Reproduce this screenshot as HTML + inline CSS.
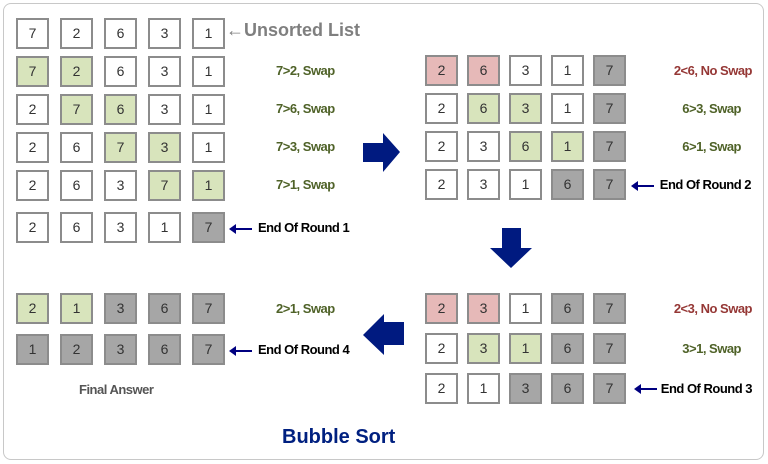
<!DOCTYPE html>
<html><head><meta charset="utf-8"><style>
body{margin:0;width:768px;height:464px;background:#fff;position:relative;overflow:hidden;font-family:"Liberation Sans",Calibri,sans-serif}
.frame{position:absolute;left:3px;top:3px;width:759px;height:455px;border:1.5px solid #c8c8c8;border-radius:8px}
.b{position:absolute;width:29px;height:27px;border:2px solid #8c8c8c;box-sizing:content-box;text-align:center;line-height:27px;font-size:14px;color:#333}
.w{background:#fff}.g{background:#d8e4bc}.r{background:#e6b9b8}.d{background:#a6a6a6}
.t{position:absolute;font-weight:bold;font-size:13px;letter-spacing:-0.5px;white-space:nowrap}
.gr{color:#4f6228}.rd{color:#953735}.bk{color:#000}
.arr{position:absolute;height:2px;background:#000080;width:18px}
.arr:before{content:"";position:absolute;left:-5px;top:-4px;border-right:7px solid #000080;border-top:5px solid transparent;border-bottom:5px solid transparent}
</style></head><body>
<div class="frame"></div>
<div id="c"></div>
<div class="t" style="left:226px;top:20px;font-size:18px;letter-spacing:0;color:#7f7f7f">←Unsorted List</div>
<div class="t" style="left:282px;top:426px;font-size:20px;letter-spacing:0;color:#002080">Bubble Sort</div>
<div class="t" style="left:79px;top:382px;color:#555">Final Answer</div>
<svg style="position:absolute;left:0;top:0" width="768" height="464">
<polygon points="363,143 383,143 383,133 400,152 383,172 383,162 363,162" fill="#001a80"/>
<polygon points="502,228 521,228 521,248 532,248 511,268 490,248 502,248" fill="#001a80"/>
<polygon points="404,322 384,322 384,314 363,335 384,355 384,345 404,345" fill="#001a80"/>
</svg>
<script>
const rowsL=[["7w","2w","6w","3w","1w"],["7g","2g","6w","3w","1w"],["2w","7g","6g","3w","1w"],["2w","6w","7g","3g","1w"],["2w","6w","3w","7g","1g"],["2w","6w","3w","1w","7d"]];
const rowsR=[["2r","6r","3w","1w","7d"],["2w","6g","3g","1w","7d"],["2w","3w","6g","1g","7d"],["2w","3w","1w","6d","7d"]];
const rowsR3=[["2r","3r","1w","6d","7d"],["2w","3g","1g","6d","7d"],["2w","1w","3d","6d","7d"]];
const rowsL4=[["2g","1g","3d","6d","7d"],["1d","2d","3d","6d","7d"]];
const c=document.getElementById('c');
function grid(rows,x0,dx,ys,name){rows.forEach((r,i)=>r.forEach((v,j)=>{const d=document.createElement('div');d.className='b '+v[1];d.style.left=(x0+j*dx)+'px';d.style.top=ys[i]+'px';d.textContent=v[0];


c.appendChild(d);}));}
grid(rowsL,16,44,[18,56,94,132,170,212],'round1');
grid(rowsR,425,42,[55,93,131,169],'round2');
grid(rowsR3,425,42,[293,333,373],'round3');
grid(rowsL4,16,44,[293,334],'round4');
function lab(txt,cls,x,y,right){const d=document.createElement('div');d.className='t '+cls;d.textContent=txt;d.style.top=y+'px';if(right)d.style.right=(768-x)+'px';else d.style.left=x+'px';


c.appendChild(d);}
lab("7>2, Swap","gr",276,63);lab("7>6, Swap","gr",276,101);lab("7>3, Swap","gr",276,139);lab("7>1, Swap","gr",276,177);
lab("End Of Round 1","bk",258,220);
lab("2<6, No Swap","rd",752,63,1);lab("6>3, Swap","gr",741,101,1);lab("6>1, Swap","gr",741,139,1);lab("End Of Round 2","bk",751,177,1);
lab("2<3, No Swap","rd",752,301,1);lab("3>1, Swap","gr",741,341,1);lab("End Of Round 3","bk",752,381,1);
lab("2>1, Swap","gr",276,301);lab("End Of Round 4","bk",258,342);
function arr(x,y){const a=document.createElement('div');a.className='arr';a.style.left=x+'px';a.style.top=y+'px';


c.appendChild(a);}
arr(234,228);arr(636,185);arr(639,388);arr(234,350);
</script>
</body></html>
